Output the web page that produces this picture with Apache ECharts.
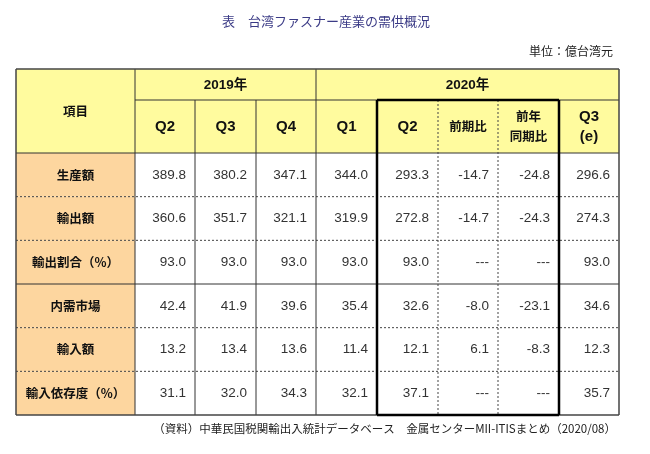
<!DOCTYPE html>
<html><head><meta charset="utf-8">
<script src="https://cdn.jsdelivr.net/npm/echarts@6/dist/echarts.min.js"></script>
<style>html,body{margin:0;padding:0;background:#fff}#c{width:650px;height:454px}</style>
</head><body><div id="c"></div>
<script>
// ---- data ----
const titleText = '表　台湾ファスナー産業の需供概況';
const unitText = '単位：億台湾元';
const sourceText = '（資料）中華民国税関輸出入統計データベース　金属センターMII-ITISまとめ（2020/08）';
const itemHeader = '項目';
const years = ['2019年', '2020年'];
const yearSpans = [3, 5];
const colHeaders = ['Q2', 'Q3', 'Q4', 'Q1', 'Q2', '前期比', '前年\n同期比', 'Q3\n(e)'];
const items = ['生産額', '輸出額', '輸出割合（%）', '内需市場', '輸入額', '輸入依存度（%）'];
const row1 = [389.8, 380.2, 347.1, 344.0, 293.3, -14.7, -24.8, 296.6];
const row2 = [360.6, 351.7, 321.1, 319.9, 272.8, -14.7, -24.3, 274.3];
const row3 = [93.0, 93.0, 93.0, 93.0, 93.0, null, null, 93.0];
const row4 = [42.4, 41.9, 39.6, 35.4, 32.6, -8.0, -23.1, 34.6];
const row5 = [13.2, 13.4, 13.6, 11.4, 12.1, 6.1, -8.3, 12.3];
const row6 = [31.1, 32.0, 34.3, 32.1, 37.1, null, null, 35.7];
const rows = [row1, row2, row3, row4, row5, row6];

// ---- layout (table units) ----
const colW = [119, 60, 61, 60, 61, 61, 60, 61, 60];
const yearRowH = 31, headRowH = 53, dataRowH = 262 / 6;
const colEdge = [0]; colW.forEach(w => colEdge.push(colEdge[colEdge.length - 1] + w));
const totalW = colEdge[colEdge.length - 1];
const rowEdge = [0, yearRowH, yearRowH + headRowH];
for (let i = 0; i < items.length; i++) rowEdge.push(rowEdge[rowEdge.length - 1] + dataRowH);
const totalH = rowEdge[rowEdge.length - 1];

const YELLOW = '#FFFB9E', ORANGE = '#FDD69F';
const JP = '"Noto Sans CJK JP", sans-serif';
const NUM = '"Liberation Sans", "Noto Sans CJK JP", sans-serif';
const cells = [];
cells.push({x0: 0, x1: colEdge[1], y0: 0, y1: rowEdge[2], text: itemHeader, fill: YELLOW, font: 'bold 12.5px ' + JP, align: 'center', dy: 0, color: '#111'});
let c = 1;
years.forEach((y, i) => {
  cells.push({x0: colEdge[c], x1: colEdge[c + yearSpans[i]], y0: 0, y1: rowEdge[1], text: y, fill: YELLOW, font: 'bold 13.5px ' + NUM, align: 'center', dy: 1, color: '#111'});
  c += yearSpans[i];
});
colHeaders.forEach((h, i) => {
  const isQ = /^Q/.test(h);
  cells.push({x0: colEdge[i + 1], x1: colEdge[i + 2], y0: rowEdge[1], y1: rowEdge[2], text: h, fill: YELLOW,
    font: isQ ? 'bold 15px ' + NUM : 'bold 12.5px ' + JP, align: 'center', dy: 0, color: '#111'});
});
items.forEach((it, r) => {
  cells.push({x0: 0, x1: colEdge[1], y0: rowEdge[r + 2], y1: rowEdge[r + 3], text: it, fill: ORANGE, font: 'bold 12.5px ' + JP, align: 'center', dy: 0, color: '#111'});
  rows[r].forEach((v, k) => {
    cells.push({x0: colEdge[k + 1], x1: colEdge[k + 2], y0: rowEdge[r + 2], y1: rowEdge[r + 3], text: v == null ? '---' : v.toFixed(1), fill: '#fff', font: '13.5px ' + NUM, align: 'right', dy: 0, color: '#333'});
  });
});

// lines: [x0,y0,x1,y1,type]
const lines = [];
lines.push([colEdge[1], rowEdge[1], totalW, rowEdge[1], 's']);
lines.push([0, rowEdge[2], totalW, rowEdge[2], 's']);
const rowSepType = ['d', 'd', 's', 'd', 'd'];
rowSepType.forEach((t, i) => lines.push([0, rowEdge[i + 3], totalW, rowEdge[i + 3], t]));
lines.push([colEdge[1], 0, colEdge[1], totalH, 's']);
lines.push([colEdge[2], rowEdge[1], colEdge[2], totalH, 's']);
lines.push([colEdge[3], rowEdge[1], colEdge[3], totalH, 's']);
lines.push([colEdge[4], 0, colEdge[4], totalH, 's']);
lines.push([colEdge[6], rowEdge[1], colEdge[6], totalH, 'd']);
lines.push([colEdge[7], rowEdge[1], colEdge[7], totalH, 'd']);
lines.push([0, 0, totalW, 0, 'o']);
lines.push([0, totalH, totalW, totalH, 'o']);
lines.push([0, 0, 0, totalH, 'o']);
lines.push([totalW, 0, totalW, totalH, 'o']);
lines.push([colEdge[5], rowEdge[1], colEdge[8], rowEdge[1], 'b']);
lines.push([colEdge[5], totalH, colEdge[8], totalH, 'b']);
lines.push([colEdge[5], rowEdge[1], colEdge[5], totalH, 'b']);
lines.push([colEdge[8], rowEdge[1], colEdge[8], totalH, 'b']);

const chart = echarts.init(document.getElementById('c'), null, {renderer: 'canvas'});

chart.setOption({
  backgroundColor: '#fff',
  animation: false,
  grid: {left: 16, top: 69, width: 603, height: 346},
  xAxis: {type: 'value', min: 0, max: totalW, show: false},
  yAxis: {type: 'value', min: 0, max: totalH, inverse: true, show: false},
  graphic: [
    {type: 'text', left: 222, top: 15, style: {text: titleText, font: '13px ' + JP, fill: '#3b3b86'}},
    {type: 'text', right: 37, top: 45, style: {text: unitText, font: '12px ' + JP, fill: '#222'}},
    {type: 'text', right: 34, top: 423, style: {text: sourceText, font: '11.5px ' + JP, fill: '#222'}}
  ],
  series: [
    {
      type: 'custom',
      coordinateSystem: 'cartesian2d',
      data: cells.map((_, i) => [i]),
      renderItem: function (params, api) {
        const cell = cells[api.value(0)];
        const p0 = api.coord([cell.x0, cell.y0]);
        const p1 = api.coord([cell.x1, cell.y1]);
        const w = p1[0] - p0[0], h = p1[1] - p0[1];
        const tx = cell.align === 'center' ? p0[0] + w / 2 : p1[0] - 9;
        return {
          type: 'group',
          children: [
            {type: 'rect', shape: {x: p0[0], y: p0[1], width: w, height: h}, style: {fill: cell.fill}},
            {type: 'text', x: tx, y: p0[1] + h / 2 + cell.dy,
              style: {text: cell.text, align: cell.align, verticalAlign: 'middle', font: cell.font, fill: cell.color, lineHeight: 20}}
          ]
        };
      }
    },
    {
      type: 'custom',
      coordinateSystem: 'cartesian2d',
      z: 5,
      data: lines.map((_, i) => [i]),
      renderItem: function (params, api) {
        const l = lines[api.value(0)];
        const a = api.coord([l[0], l[1]]), b = api.coord([l[2], l[3]]);
        const t = l[4];
        const style = {stroke: '#333', lineWidth: 1, fill: null};
        if (t === 'd') { style.lineDash = [2, 2]; style.stroke = '#444'; }
        if (t === 'o') { style.lineWidth = 1.5; style.stroke = '#444'; }
        if (t === 'b') { style.lineWidth = 2.5; style.stroke = '#000'; }
        return {type: 'line', z2: t === 'b' ? 10 : 1, shape: {x1: a[0], y1: a[1], x2: b[0], y2: b[1]}, style: style};
      }
    }
  ]
});
</script></body></html>
